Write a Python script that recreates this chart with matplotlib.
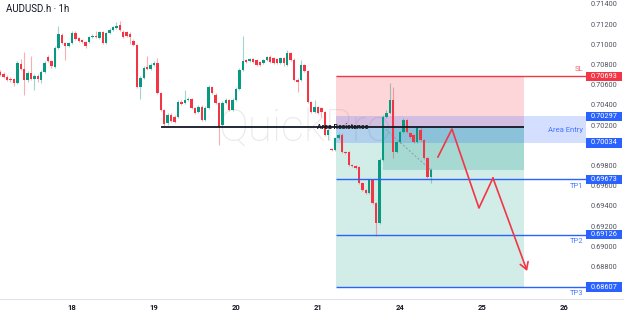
import matplotlib
matplotlib.use('Agg')
import matplotlib.pyplot as plt
import matplotlib.transforms as mtransforms
from matplotlib.patches import Rectangle
import numpy as np

plt.rcParams['font.family'] = ['Roboto', 'DejaVu Sans']

# AUDUSD.h 1h candles
opens = [0.70737, 0.70717, 0.70688, 0.70668, 0.70668, 0.70628, 0.70816, 0.70767, 0.70658, 0.70727,
         0.70668, 0.70698, 0.70658, 0.70737, 0.70886, 0.70846, 0.70787, 0.70975, 0.71104, 0.71024,
         0.70995, 0.71024, 0.71123, 0.71074, 0.71054, 0.71034, 0.71034, 0.71084, 0.71094, 0.71074,
         0.71133, 0.71024, 0.71123, 0.71153, 0.71173, 0.71202, 0.71133, 0.71133, 0.71113, 0.71044,
         0.71005, 0.70589, 0.70678, 0.70787, 0.70767, 0.70807, 0.70826, 0.70529, 0.70361, 0.70232,
         0.70312, 0.70292, 0.70292, 0.70440, 0.70430, 0.70460, 0.70470, 0.70381, 0.70341, 0.70391,
         0.70262, 0.70381, 0.70589, 0.70510, 0.70430, 0.70212, 0.70430, 0.70460, 0.70361, 0.70460,
         0.70569, 0.70757, 0.70856, 0.70846, 0.70866, 0.70856, 0.70836, 0.70826, 0.70856, 0.70886,
         0.70876, 0.70866, 0.70826, 0.70876, 0.70807, 0.70925, 0.70856, 0.70658, 0.70658, 0.70807,
         0.70747, 0.70440, 0.70341, 0.70391, 0.70381, 0.70341, 0.70113, 0.69975, 0.69965, 0.70084,
         0.70113, 0.69945, 0.69945, 0.69817, 0.69807, 0.69797, 0.69638, 0.69569, 0.69539, 0.69668,
         0.69441, 0.69243, 0.69866, 0.70292, 0.70331, 0.70460, 0.69945, 0.70044, 0.70143, 0.70262,
         0.70133, 0.70113, 0.70044, 0.70163, 0.70064, 0.69886, 0.69698]
highs = [0.70757, 0.70737, 0.70708, 0.70688, 0.70678, 0.70846, 0.70866, 0.70935, 0.70747, 0.70896,
         0.70717, 0.70717, 0.70757, 0.70846, 0.70906, 0.70856, 0.70995, 0.71193, 0.71123, 0.71034,
         0.71034, 0.71143, 0.71143, 0.71084, 0.71064, 0.71044, 0.71094, 0.71113, 0.71143, 0.71143,
         0.71143, 0.71133, 0.71173, 0.71193, 0.71232, 0.71242, 0.71153, 0.71143, 0.71133, 0.71064,
         0.71014, 0.70698, 0.70797, 0.70896, 0.70826, 0.70846, 0.70876, 0.70539, 0.70371, 0.70331,
         0.70331, 0.70312, 0.70460, 0.70460, 0.70559, 0.70490, 0.70480, 0.70391, 0.70411, 0.70411,
         0.70401, 0.70609, 0.70599, 0.70529, 0.70440, 0.70450, 0.70480, 0.70470, 0.70480, 0.70589,
         0.70777, 0.71094, 0.70866, 0.70876, 0.70876, 0.70866, 0.70846, 0.70866, 0.70896, 0.70906,
         0.70886, 0.70876, 0.70886, 0.70886, 0.70955, 0.70935, 0.70876, 0.70678, 0.70856, 0.70816,
         0.70757, 0.70450, 0.70460, 0.70401, 0.70391, 0.70351, 0.70183, 0.69985, 0.70094, 0.70133,
         0.70133, 0.69955, 0.69955, 0.69827, 0.69817, 0.69807, 0.69648, 0.69579, 0.69678, 0.69678,
         0.69450, 0.69886, 0.70312, 0.70361, 0.70628, 0.70589, 0.70054, 0.70153, 0.70282, 0.70272,
         0.70143, 0.70123, 0.70203, 0.70203, 0.70074, 0.69896, 0.69787]
lows = [0.70698, 0.70678, 0.70648, 0.70638, 0.70599, 0.70618, 0.70757, 0.70510, 0.70638, 0.70658,
        0.70559, 0.70638, 0.70628, 0.70727, 0.70836, 0.70777, 0.70777, 0.70965, 0.71014, 0.70856,
        0.70985, 0.71014, 0.71054, 0.71034, 0.71024, 0.70975, 0.71024, 0.71074, 0.71074, 0.71064,
        0.71014, 0.71014, 0.71113, 0.71143, 0.71163, 0.71143, 0.71074, 0.71084, 0.71014, 0.70995,
        0.70579, 0.70470, 0.70668, 0.70757, 0.70757, 0.70797, 0.70520, 0.70351, 0.70203, 0.70212,
        0.70242, 0.70232, 0.70282, 0.70410, 0.70420, 0.70450, 0.70371, 0.70321, 0.70331, 0.70252,
        0.70252, 0.70371, 0.70520, 0.70420, 0.70015, 0.70203, 0.70420, 0.70351, 0.70351, 0.70450,
        0.70559, 0.70747, 0.70826, 0.70836, 0.70826, 0.70797, 0.70797, 0.70816, 0.70846, 0.70826,
        0.70816, 0.70816, 0.70816, 0.70797, 0.70797, 0.70846, 0.70648, 0.70539, 0.70648, 0.70737,
        0.70430, 0.70331, 0.70331, 0.70321, 0.70292, 0.70104, 0.70064, 0.69955, 0.69955, 0.70074,
        0.69935, 0.69925, 0.69807, 0.69797, 0.69777, 0.69628, 0.69559, 0.69529, 0.69529, 0.69431,
        0.69115, 0.69233, 0.69856, 0.70282, 0.70321, 0.69886, 0.69935, 0.70034, 0.70133, 0.70133,
        0.70084, 0.70034, 0.70034, 0.70054, 0.69876, 0.69688, 0.69638]
closes = [0.70708, 0.70688, 0.70658, 0.70658, 0.70628, 0.70826, 0.70767, 0.70658, 0.70727, 0.70668,
          0.70698, 0.70668, 0.70737, 0.70826, 0.70846, 0.70797, 0.70975, 0.71113, 0.71024, 0.70995,
          0.71024, 0.71123, 0.71064, 0.71044, 0.71034, 0.70995, 0.71084, 0.71094, 0.71084, 0.71133,
          0.71024, 0.71123, 0.71153, 0.71183, 0.71193, 0.71153, 0.71084, 0.71094, 0.71084, 0.71005,
          0.70589, 0.70678, 0.70777, 0.70767, 0.70807, 0.70826, 0.70529, 0.70361, 0.70222, 0.70312,
          0.70252, 0.70242, 0.70440, 0.70420, 0.70460, 0.70470, 0.70381, 0.70331, 0.70391, 0.70262,
          0.70381, 0.70589, 0.70529, 0.70430, 0.70193, 0.70430, 0.70460, 0.70361, 0.70460, 0.70569,
          0.70757, 0.70846, 0.70836, 0.70866, 0.70836, 0.70807, 0.70807, 0.70856, 0.70886, 0.70836,
          0.70826, 0.70826, 0.70876, 0.70826, 0.70925, 0.70856, 0.70658, 0.70638, 0.70807, 0.70747,
          0.70440, 0.70341, 0.70391, 0.70331, 0.70341, 0.70113, 0.70163, 0.69965, 0.70084, 0.70113,
          0.69945, 0.69935, 0.69817, 0.69807, 0.69787, 0.69638, 0.69569, 0.69539, 0.69668, 0.69441,
          0.69243, 0.69866, 0.70292, 0.70331, 0.70460, 0.69945, 0.70044, 0.70143, 0.70262, 0.70143,
          0.70094, 0.70044, 0.70183, 0.70064, 0.69886, 0.69698, 0.69767]

day_ticks = [21, 45, 69, 93, 117, 141, 165]
day_labels = ['18', '19', '20', '21', '24', '25', '26']
# 0.70000 and 0.68600 sit under the price tags, so they are left out
price_ticks = [0.714, 0.712, 0.710, 0.708, 0.706, 0.704, 0.702,
               0.698, 0.696, 0.694, 0.692, 0.690, 0.688]

# trade plan drawings
resistance = 0.70193
res_start = 47
sl_price = 0.70693
entry_top = 0.70297
entry_bottom = 0.70034
tp_prices = [0.69673, 0.69126, 0.68607]
tp_names = ['TP1', 'TP2', 'TP3']
zone_start, zone_end = 98.3, 153.3
fill_start = 112
current_price = 0.69767
path_x = [128.1, 132.2, 140.1, 144.2, 154.2]
path_y = [0.69895, 0.70172, 0.69390, 0.69687, 0.68766]

UP = '#089981'
DOWN = '#f23645'
BLUE = '#2962ff'

fig = plt.figure(figsize=(6.24, 3.16), dpi=100)
ax = fig.add_axes([0, 17 / 316, 1, 299 / 316])
ax.set_xlim(-0.07, 182.55)
ax.set_ylim(0.684891, 0.714495)

# watermark
ax.text(63.7, 0.70180, 'QuickPro', fontsize=32, color='#e9e9eb', fontweight='light',
        ha='left', va='center', zorder=0)

# candles
x = np.arange(len(closes))
o = np.array(opens)
c = np.array(closes)
colors = [UP if cc >= oo else DOWN for oo, cc in zip(o, c)]
ax.vlines(x, lows, highs, colors=colors, linewidth=0.8, alpha=0.4, zorder=3)
body_low = np.minimum(o, c)
body_h = np.maximum(np.abs(c - o), 0.00008)
ax.bar(x, body_h, bottom=body_low, width=0.72, color=colors, linewidth=0, zorder=4)

# position zones
ax.add_patch(Rectangle((zone_start, resistance), zone_end - zone_start, sl_price - resistance,
                       facecolor=DOWN, alpha=0.2, linewidth=0, zorder=1))
ax.add_patch(Rectangle((zone_start, tp_prices[2]), zone_end - zone_start, resistance - tp_prices[2],
                       facecolor=UP, alpha=0.18, linewidth=0, zorder=1))
ax.add_patch(Rectangle((fill_start, current_price), zone_end - fill_start, resistance - current_price,
                       facecolor=UP, alpha=0.22, linewidth=0, zorder=1))
ax.plot([fill_start, 126], [resistance, current_price], color='#9598a1', lw=0.7,
        ls=(0, (2, 2)), zorder=2)

# entry band (reaches into the price scale)
tag_x0, tag_x1 = 586 / 624, 622 / 624
ax.add_patch(Rectangle((zone_start, entry_bottom), 171.4 - zone_start, entry_top - entry_bottom,
                       facecolor=BLUE, alpha=0.2, linewidth=0, zorder=1.5))

# level lines
ax.hlines(sl_price, zone_start, 171.4, color=DOWN, lw=1.0, zorder=5)
for tp in tp_prices:
    ax.hlines(tp, zone_start, 171.4, color=BLUE, lw=1.0, zorder=5)
ax.hlines(resistance, res_start, zone_end, color='#131722', lw=1.3, zorder=5)
ax.text(100.3, resistance, 'Area Resistance', fontsize=5, fontweight='bold', color='#131722',
        ha='center', va='center', zorder=6)

# labels next to price scale
ax.annotate('SL', xy=(170.6, sl_price), xytext=(0, 5), textcoords='offset points',
            ha='right', va='center', fontsize=5.5, color=DOWN, alpha=0.8)
ax.text(170.6, (entry_top + entry_bottom) / 2, 'Area Entry', fontsize=5.5, color=BLUE,
        ha='right', va='center', alpha=0.85)
for tp, name in zip(tp_prices, tp_names):
    ax.annotate(name, xy=(170.6, tp), xytext=(0, -4.5), textcoords='offset points',
                ha='right', va='center', fontsize=5.5, color=BLUE, alpha=0.85)

# projected path
ax.plot(path_x[:-1], path_y[:-1], color=DOWN, lw=1.2, zorder=7)
ax.annotate('', xy=(path_x[-1], path_y[-1]), xytext=(path_x[-2], path_y[-2]),
            arrowprops=dict(arrowstyle='->,head_length=0.5,head_width=0.3', color=DOWN,
                            lw=1.2, shrinkA=0, shrinkB=0), zorder=7)

# price scale
trans = mtransforms.blended_transform_factory(ax.transAxes, ax.transData)
for p in price_ticks:
    ax.text(604 / 624, p, f'{p:.5f}', transform=trans, fontsize=5.3, color='#50535e',
            ha='center', va='center', zorder=8)
tags = [(sl_price, DOWN), (entry_top, BLUE), (entry_bottom, BLUE)] + [(tp, BLUE) for tp in tp_prices]
half = 0.00047
for p, col in tags:
    ax.add_patch(Rectangle((tag_x0, p - half), tag_x1 - tag_x0, 2 * half, transform=trans,
                           facecolor=col, linewidth=0, zorder=9, clip_on=False))
    ax.text(604 / 624, p, f'{p:.5f}', transform=trans, fontsize=5.3, color='white',
            ha='center', va='center', zorder=10)

# title
ax.text(0.01, 0.969, 'AUDUSD.h · 1h', transform=ax.transAxes, fontsize=7, color='#131722',
        ha='left', va='center')

# time axis
ax.set_xticks(day_ticks)
ax.set_xticklabels(day_labels, fontsize=5.5, fontweight='bold', color='#131722')
ax.tick_params(axis='x', length=0, pad=3.5)
ax.set_yticks([])
for side in ['top', 'left', 'right']:
    ax.spines[side].set_visible(False)
ax.spines['bottom'].set_color('#e0e3eb')
ax.spines['bottom'].set_linewidth(0.8)

fig.savefig('out.png', dpi=100)
